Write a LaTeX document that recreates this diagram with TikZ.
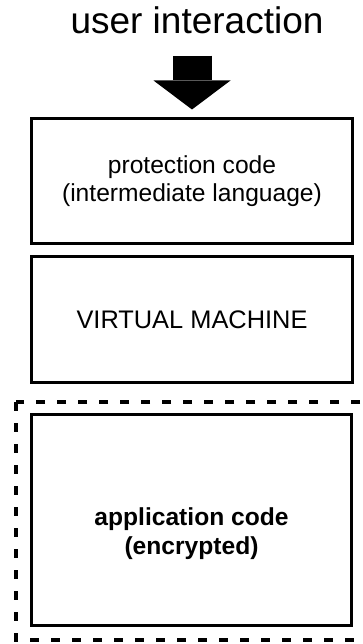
\documentclass[tikz,border=0pt]{standalone}
\usepackage{fontspec}
\setmainfont{Liberation Sans}
\usetikzlibrary{arrows.meta,positioning}

\begin{document}
\begin{tikzpicture}[x=1pt,y=-1pt,
    layer/.style={draw, line width=3pt, minimum width=321pt, inner sep=0pt, align=center,
      font=\fontsize{24.6}{28.5}\selectfont},
    encbox/.style={draw, line width=4pt, dash pattern=on 9pt off 12pt},
    bigarrow/.style={line width=39pt, -{Triangle[width=77pt,length=29pt,line width=0pt]}}]
  % Page
  \clip (0,0) rectangle (362,644);
  % Title
  \node[anchor=base, font=\fontsize{37}{41}\selectfont] (user) at (197,34) {user interaction};
  % Layers
  \node[layer, minimum height=125pt] (prot) at (192,181) {protection code\\(intermediate language)};
  \node[layer, minimum height=126pt, font=\fontsize{25.4}{28}\selectfont] (vm) at (192,319.5) {VIRTUAL MACHINE};
  \node[layer, minimum width=320pt, minimum height=211pt] (app) at (191.5,520) {};
  \node[font=\bfseries\fontsize{24.6}{29}\selectfont, align=center] (apptext) at (191.5,534) {application code\\(encrypted)};
  % Encrypted region
  \draw[encbox] (16,402) rectangle (370,640);
  % Arrow
  \draw[bigarrow] ([yshift=-17.7pt]user.south -| prot.north) -- ([yshift=7.5pt]prot.north);
\end{tikzpicture}
\end{document}
